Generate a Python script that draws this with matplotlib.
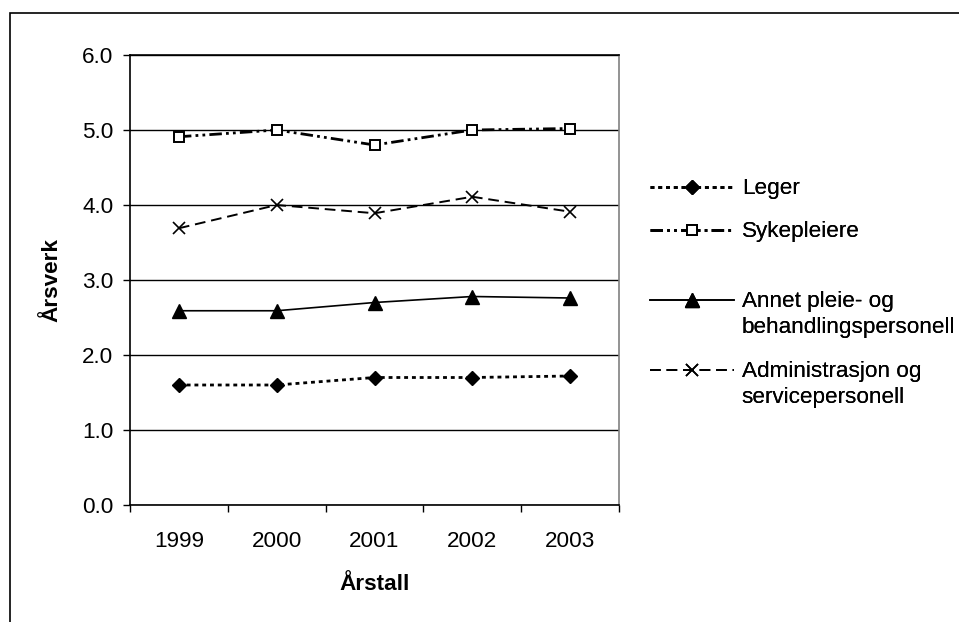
import matplotlib
matplotlib.use("Agg")
import matplotlib.pyplot as plt
from matplotlib.patches import Rectangle

plt.rcParams['font.family'] = ['Liberation Sans', 'DejaVu Sans']

years = ["1999", "2000", "2001", "2002", "2003"]
leger = [1.60, 1.60, 1.70, 1.70, 1.72]
sykepleiere = [4.91, 5.00, 4.80, 5.00, 5.02]
annet = [2.59, 2.59, 2.70, 2.78, 2.76]
administrasjon = [3.69, 4.00, 3.89, 4.11, 3.91]
series_labels = ["Leger", "Sykepleiere",
                 "Annet pleie- og\nbehandlingspersonell",
                 "Administrasjon og\nservicepersonell"]
y_ticks = [0.0, 1.0, 2.0, 3.0, 4.0, 5.0, 6.0]

FS = 16.2
W, H = 959, 622
fig = plt.figure(figsize=(W / 100, H / 100), dpi=100)
ax = fig.add_axes([130 / W, 1 - 505 / H, (619 - 130) / W, (505 - 55) / H])

x = list(range(1, len(years) + 1))

l1, = ax.plot(x, leger, color='black', lw=2.0, linestyle=(0, (1.4, 1.4)),
              marker='D', ms=7.5, mfc='black', mec='black')
l2, = ax.plot(x, sykepleiere, color='black', lw=2.0,
              linestyle=(0, (4.5, 1.5, 1.0, 1.5, 1.0, 1.5)),
              marker='s', ms=7, mfc='white', mec='black', mew=1.4)
l3, = ax.plot(x, annet, color='black', lw=1.2, linestyle='-',
              marker='^', ms=9.5, mfc='black', mec='black')
l4, = ax.plot(x, administrasjon, color='black', lw=1.4,
              linestyle=(0, (5.5, 3.0)),
              marker='x', ms=9, mfc='black', mec='black', mew=1.2)

ax.set_xlim(0.5, len(years) + 0.5)
ax.set_ylim(0, 6)
ax.set_yticks(y_ticks)
ax.set_yticklabels([f"{v:.1f}" for v in y_ticks])
ax.set_xticks(x)
ax.set_xticklabels(years)
ax.set_xticks([i + 0.5 for i in range(0, len(years) + 1)], minor=True)
ax.tick_params(axis='x', which='major', length=0, pad=19, labelsize=FS)
ax.tick_params(axis='x', which='minor', length=5, width=1, direction='out')
ax.tick_params(axis='y', length=5, width=1, pad=7, labelsize=FS, direction='out')

ax.yaxis.grid(True, color='black', lw=1)
ax.set_axisbelow(True)
for side in ('left', 'bottom', 'top'):
    ax.spines[side].set_color('black')
    ax.spines[side].set_linewidth(1.2)
ax.spines['right'].set_color('#808080')
ax.spines['right'].set_linewidth(1.2)

ax.set_xlabel("Årstall", fontsize=FS, fontweight='bold')
ax.xaxis.label.set_va('center')
ax.xaxis.set_label_coords(0.5, (505 - 585) / 450)
ax.set_ylabel("Årsverk", fontsize=FS, fontweight='bold')
ax.yaxis.label.set_va('center')
ax.yaxis.set_label_coords((52 - 130) / 489, 0.5)

# one legend block per series so each entry sits at its own height
entry_y = [190, 233, 303, 373]
for handle, label, yy in zip([l1, l2, l3, l4], series_labels, entry_y):
    leg = fig.legend([handle], [label], loc='upper left',
                     bbox_to_anchor=(650 / W, 1 - (yy - 12) / H),
                     frameon=False, fontsize=FS, borderpad=0,
                     borderaxespad=0, handlelength=3.75, handletextpad=0.33,
                     handleheight=1.0)
    for t in leg.get_texts():
        t.set_linespacing(1.3)
    # keep the handle level with the first text line
    for column in leg._legend_handle_box.get_children():
        for row in column.get_children():
            row.align = 'top'
    fig.add_artist(leg)

# outer chart frame
fig.patches.append(Rectangle((10 / W, -0.5), 2.0, 1.5 - 13 / H,
                             transform=fig.transFigure, fill=False,
                             edgecolor='black', lw=1.2))

fig.savefig("out.png", dpi=100, facecolor='white')
